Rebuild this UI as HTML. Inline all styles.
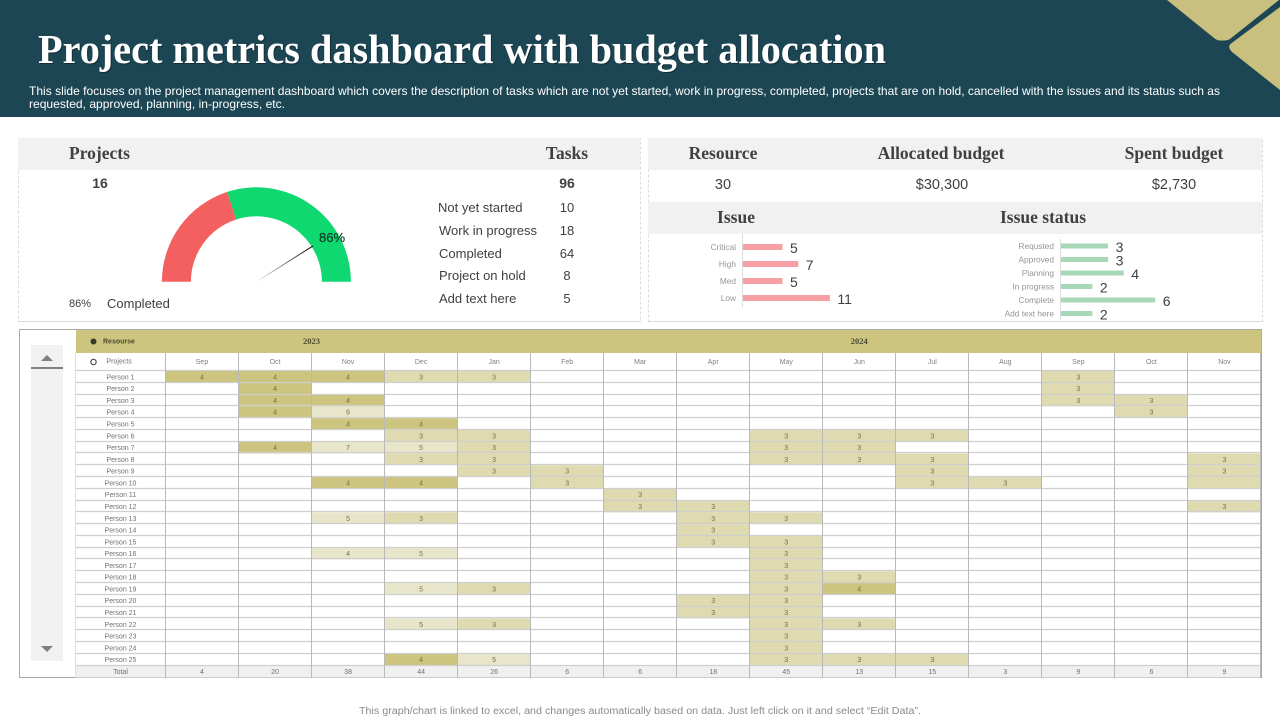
<!DOCTYPE html>
<html lang="en">
<head>
<meta charset="utf-8">
<title>Project metrics dashboard with budget allocation</title>
<style>
html,body{margin:0;padding:0;background:#fff;width:1280px;height:720px;overflow:hidden}
svg{display:block;position:absolute;left:0;top:0}
text{font-family:"Liberation Sans",sans-serif}
.serif{font-family:"Liberation Serif",serif;font-weight:bold}
</style>
</head>
<body>
<svg id="page" xmlns="http://www.w3.org/2000/svg" width="1280" height="720" viewBox="0 0 1280 720">
  <defs>
    <linearGradient id="needleFade" gradientUnits="userSpaceOnUse" x1="256" y1="282" x2="313" y2="247">
      <stop offset="0" stop-color="#000" stop-opacity="0"/>
      <stop offset=".35" stop-color="#000" stop-opacity=".35"/>
      <stop offset="1" stop-color="#000" stop-opacity="1"/>
    </linearGradient>
  </defs>

  <rect x="0" y="0" width="1280" height="117" fill="#1c4654"/>
  <path d="M1167 0 H1279 L1230 39 Q1228 40.5 1224 40.5 H1220 Q1217 40.5 1214 38 Z" fill="#c9bf7e"/>
  <path d="M1280 7 V90 L1232 52 Q1227 47 1231 43.5 Z" fill="#c9bf7e"/>
  <text class="serif" x="39" y="64" font-size="41" fill="#000" opacity=".35" textLength="848" lengthAdjust="spacingAndGlyphs" aria-hidden="true">Project metrics dashboard with budget allocation</text>
  <text class="serif" x="38" y="63" font-size="41" fill="#fff" textLength="848" lengthAdjust="spacingAndGlyphs">Project metrics dashboard with budget allocation</text>
  <text x="29" y="95" font-size="12" fill="#fff" textLength="1191" lengthAdjust="spacingAndGlyphs">This slide focuses on the project management dashboard which covers the description of tasks which are not yet  started, work in progress, completed, projects that are on hold, cancelled with the issues and its status such as</text>
  <text x="29" y="108" font-size="12" fill="#fff" textLength="256" lengthAdjust="spacingAndGlyphs">requested, approved, planning, in-progress, etc.</text>

  <!-- Left panel -->
  <g>
    <rect x="18.5" y="138.5" width="622" height="183" fill="#fff" stroke="#dcdcd8" stroke-dasharray="3 2"/>
    <line x1="18" y1="321.5" x2="641" y2="321.5" stroke="#d8d8d4"/>
    <rect x="18" y="138" width="622" height="32" fill="#f1f1f1"/>
    <text class="serif" x="69" y="159" font-size="17.5" fill="#404040">Projects</text>
    <text class="serif" x="567" y="159" font-size="17.5" fill="#404040" text-anchor="middle">Tasks</text>
    <text x="100" y="188" font-size="14" font-weight="bold" fill="#404040" text-anchor="middle">16</text>
    <text x="567" y="188" font-size="14" font-weight="bold" fill="#404040" text-anchor="middle">96</text>
    <text x="69" y="307" font-size="11" fill="#404040">86%</text>
    <text x="107" y="308" font-size="13" fill="#404040">Completed</text>
    <text x="438" y="212" font-size="13" fill="#404040">Not yet started</text>
    <text x="439" y="235" font-size="13" fill="#404040">Work in progress</text>
    <text x="439" y="258" font-size="13" fill="#404040">Completed</text>
    <text x="439" y="280" font-size="13" fill="#404040">Project on hold</text>
    <text x="439" y="303" font-size="13" fill="#404040">Add text here</text>
    <text x="567" y="212" font-size="13" fill="#404040" text-anchor="middle">10</text>
    <text x="567" y="235" font-size="13" fill="#404040" text-anchor="middle">18</text>
    <text x="567" y="258" font-size="13" fill="#404040" text-anchor="middle">64</text>
    <text x="567" y="280" font-size="13" fill="#404040" text-anchor="middle">8</text>
    <text x="567" y="303" font-size="13" fill="#404040" text-anchor="middle">5</text>
  </g>
  <g id="gauge"></g>

  <!-- Right panel -->
  <g>
    <rect x="648.5" y="138.5" width="614" height="183" fill="#fff" stroke="#dcdcd8" stroke-dasharray="3 2"/>
    <line x1="648" y1="321.5" x2="1263" y2="321.5" stroke="#d8d8d4"/>
    <rect x="648" y="138" width="614" height="32" fill="#f1f1f1"/>
    <rect x="648" y="202" width="614" height="32" fill="#f1f1f1"/>
    <text class="serif" x="723" y="159" font-size="17.5" fill="#404040" text-anchor="middle">Resource</text>
    <text class="serif" x="941" y="159" font-size="17.5" fill="#404040" text-anchor="middle">Allocated budget</text>
    <text class="serif" x="1174" y="159" font-size="17.5" fill="#404040" text-anchor="middle">Spent budget</text>
    <text x="723" y="189" font-size="14.5" fill="#404040" text-anchor="middle">30</text>
    <text x="942" y="189" font-size="14.5" fill="#404040" text-anchor="middle">$30,300</text>
    <text x="1174" y="189" font-size="14.5" fill="#404040" text-anchor="middle">$2,730</text>
    <text class="serif" x="736" y="223" font-size="17.5" fill="#404040" text-anchor="middle">Issue</text>
    <text class="serif" x="1043" y="223" font-size="17.5" fill="#404040" text-anchor="middle">Issue status</text>
  </g>
  <g id="issueChart"></g>
  <g id="statusChart"></g>

  <!-- Resource grid -->
  <rect x="19.5" y="329.5" width="1242" height="348" fill="#fff" stroke="#a9a9a9"/>
  <g>
    <rect x="31" y="345" width="32" height="316" fill="#f1f1f1"/>
    <path d="M41 361 L47 355 L53 361 Z" fill="#7f7f7f"/>
    <rect x="31" y="367" width="32" height="2" fill="#7f7f7f"/>
    <path d="M41 646 L53 646 L47 652 Z" fill="#7f7f7f"/>
  </g>
  <g id="grid"></g>

  <text x="640" y="714" font-size="10" fill="#8a8a8a" text-anchor="middle" textLength="562" lengthAdjust="spacingAndGlyphs">This graph/chart is linked to excel, and changes automatically based on data. Just left click on it and select “Edit Data”.</text>
</svg>

<script>
// ---------- Chart data ----------
const gaugeShares = [40, 60];
const gaugeNeedleValue = [82];
const gaugeLabel = ['86%'];

const issueCategories = ['Critical', 'High', 'Med', 'Low'];
const issueValues = [5, 7, 5, 11];

const statusCategories = ['Requsted', 'Approved', 'Planning', 'In progress', 'Complete', 'Add text here'];
const statusValues = [3, 3, 4, 2, 6, 2];

const months = ['Sep', 'Oct', 'Nov', 'Dec', 'Jan', 'Feb', 'Mar', 'Apr', 'May', 'Jun', 'Jul', 'Aug', 'Sep', 'Oct', 'Nov'];
const years = ['2023', '2024'];
const yearSpans = [4, 11];
const people = ['Person 1', 'Person 2', 'Person 3', 'Person 4', 'Person 5', 'Person 6', 'Person 7', 'Person 8', 'Person 9', 'Person 10', 'Person 11', 'Person 12', 'Person 13', 'Person 14', 'Person 15', 'Person 16', 'Person 17', 'Person 18', 'Person 19', 'Person 20', 'Person 21', 'Person 22', 'Person 23', 'Person 24', 'Person 25'];
const allocation = [
  [4, 4, 4, 3, 3, 0, 0, 0, 0, 0, 0, 0, 3, 0, 0],
  [0, 4, 0, 0, 0, 0, 0, 0, 0, 0, 0, 0, 3, 0, 0],
  [0, 4, 4, 0, 0, 0, 0, 0, 0, 0, 0, 0, 3, 3, 0],
  [0, 4, 6, 0, 0, 0, 0, 0, 0, 0, 0, 0, 0, 3, 0],
  [0, 0, 4, 4, 0, 0, 0, 0, 0, 0, 0, 0, 0, 0, 0],
  [0, 0, 0, 3, 3, 0, 0, 0, 3, 3, 3, 0, 0, 0, 0],
  [0, 4, 7, 5, 3, 0, 0, 0, 3, 3, 0, 0, 0, 0, 0],
  [0, 0, 0, 3, 3, 0, 0, 0, 3, 3, 3, 0, 0, 0, 3],
  [0, 0, 0, 0, 3, 3, 0, 0, 0, 0, 3, 0, 0, 0, 3],
  [0, 0, 4, 4, 0, 3, 0, 0, 0, 0, 3, 3, 0, 0, 3],
  [0, 0, 0, 0, 0, 0, 3, 0, 0, 0, 0, 0, 0, 0, 0],
  [0, 0, 0, 0, 0, 0, 3, 3, 0, 0, 0, 0, 0, 0, 3],
  [0, 0, 5, 3, 0, 0, 0, 3, 3, 0, 0, 0, 0, 0, 0],
  [0, 0, 0, 0, 0, 0, 0, 3, 0, 0, 0, 0, 0, 0, 0],
  [0, 0, 0, 0, 0, 0, 0, 3, 3, 0, 0, 0, 0, 0, 0],
  [0, 0, 4, 5, 0, 0, 0, 0, 3, 0, 0, 0, 0, 0, 0],
  [0, 0, 0, 0, 0, 0, 0, 0, 3, 0, 0, 0, 0, 0, 0],
  [0, 0, 0, 0, 0, 0, 0, 0, 3, 3, 0, 0, 0, 0, 0],
  [0, 0, 0, 5, 3, 0, 0, 0, 3, 4, 0, 0, 0, 0, 0],
  [0, 0, 0, 0, 0, 0, 0, 3, 3, 0, 0, 0, 0, 0, 0],
  [0, 0, 0, 0, 0, 0, 0, 3, 3, 0, 0, 0, 0, 0, 0],
  [0, 0, 0, 5, 3, 0, 0, 0, 3, 3, 0, 0, 0, 0, 0],
  [0, 0, 0, 0, 0, 0, 0, 0, 3, 0, 0, 0, 0, 0, 0],
  [0, 0, 0, 0, 0, 0, 0, 0, 3, 0, 0, 0, 0, 0, 0],
  [0, 0, 0, 4, 5, 0, 0, 0, 3, 3, 3, 0, 0, 0, 0]
];
const totals = [4, 20, 38, 44, 26, 6, 6, 18, 45, 13, 15, 3, 9, 6, 9];
// Cells drawn differently in the source: [person index, month index]
const unlabeledCells = [[9, 14]];
const paleCells = [[15, 2]];

// ---------- Helpers ----------
const NS = 'http://www.w3.org/2000/svg';
function mk(parent, tag, props, txt) {
  const e = document.createElementNS(NS, tag);
  for (const k in props) e.setAttribute(k, props[k]);
  if (txt !== undefined) e.textContent = txt;
  parent.appendChild(e);
  return e;
}
function hasCell(list, r, c) {
  return list.some(function (p) { return p[0] === r && p[1] === c; });
}

// ---------- Gauge ----------
(function () {
  const g = document.getElementById('gauge');
  const cx = 256.4, cy = 281.8, R = 94.5, r = 65.5;
  const sum = gaugeShares.reduce(function (a, b) { return a + b; }, 0);
  const angle = function (share) { return Math.PI * (1 - share / sum); };
  const needleAngle = function (v) { return Math.PI * (1 - v / 100); };
  const colors = ['#f46060', '#0fd870'];
  let acc = 0;
  gaugeShares.forEach(function (s, i) {
    const a0 = angle(acc), a1 = angle(acc + s);
    acc += s;
    const d = 'M' + (cx + R * Math.cos(a0)) + ' ' + (cy - R * Math.sin(a0)) +
      ' A' + R + ' ' + R + ' 0 0 1 ' + (cx + R * Math.cos(a1)) + ' ' + (cy - R * Math.sin(a1)) +
      ' L' + (cx + r * Math.cos(a1)) + ' ' + (cy - r * Math.sin(a1)) +
      ' A' + r + ' ' + r + ' 0 0 0 ' + (cx + r * Math.cos(a0)) + ' ' + (cy - r * Math.sin(a0)) + ' Z';
    const seg = mk(g, 'path', { d: d, fill: colors[i] });
    
    
  });
  const na = needleAngle(gaugeNeedleValue[0]);
  const needle = mk(g, 'line', {
    x1: cx, y1: cy,
    x2: cx + 67 * Math.cos(na), y2: cy - 67 * Math.sin(na),
    stroke: 'url(#needleFade)', 'stroke-width': 1
  });
  
  
  const label = mk(g, 'text', { x: 332, y: 242, 'font-size': 13, 'text-anchor': 'middle', fill: '#0e3f28', stroke: '#0e3f28', 'stroke-width': 0.25 }, gaugeLabel[0]);
  
  
})();

// ---------- Bar charts ----------
function barChart(gId, cats, vals, opt) {
  const g = document.getElementById(gId);
  const xScale = function (v) { return opt.x0 + v * opt.unit; };
  const yScale = function (i) { return opt.y0 + i * opt.step; };
  const axis = mk(g, 'line', { x1: opt.x0 - 0.5, x2: opt.x0 - 0.5, y1: opt.axisTop, y2: opt.axisBottom, stroke: '#dcdcdc' });
  
  
  cats.forEach(function (c, i) {
    const y = yScale(i);
    const lab = mk(g, 'text', { x: opt.x0 - 7, y: y + 3, 'font-size': 8.3, 'text-anchor': 'end', fill: '#959595' }, c);
    
    
    const bar = mk(g, 'rect', { x: opt.x0, y: y - opt.h / 2, width: xScale(vals[i]) - opt.x0, height: opt.h, fill: opt.fill });
    
    
    const val = mk(g, 'text', { x: xScale(vals[i]) + opt.pad, y: y + 6, 'font-size': 14, fill: '#404040' }, vals[i]);
    
    
  });
}
barChart('issueChart', issueCategories, issueValues, {
  x0: 743, unit: 7.9, y0: 247, step: 17, h: 6, fill: '#f6a0a6', pad: 7.5, axisTop: 234, axisBottom: 307
});
barChart('statusChart', statusCategories, statusValues, {
  x0: 1061, unit: 15.7, y0: 246, step: 13.5, h: 5, fill: '#a9d8b8', pad: 7.5, axisTop: 239, axisBottom: 320
});

// ---------- Allocation grid ----------
(function () {
  const g = document.getElementById('grid');
  const gx0 = 165.5, colW = 73.03, labelX = 76;
  const gy0 = 371, rowH = 11.78;
  const xCol = function (c) { return gx0 + c * colW; };
  const yRow = function (r) { return gy0 + r * rowH; };
  const gridBottom = yRow(people.length);
  const frameBottom = 677.5;

  const band = mk(g, 'rect', { x: labelX, y: 330, width: xCol(months.length) - labelX, height: 23, fill: '#cdc57f' });
  
  

  const tone = function (v, r, c) {
    if (hasCell(paleCells, r, c) || v >= 5) return '#e8e6ca';
    if (v === 4) return '#cdc57f';
    return '#dfdab0';
  };

  // total row background
  const totBg = mk(g, 'rect', { x: labelX, y: gridBottom, width: xCol(months.length) - labelX, height: frameBottom - gridBottom, fill: '#f0f0f0' });
  
  

  // filled cells
  allocation.forEach(function (row, r) {
    row.forEach(function (v, c) {
      if (!v) return;
      const cell = mk(g, 'rect', { x: xCol(c), y: yRow(r), width: colW, height: rowH, fill: tone(v, r, c) });
      
      
    });
  });

  // row rules
  for (let r = 0; r <= people.length; r++) {
    const y = Math.round(yRow(r)) - 0.5;
    const rule = mk(g, 'line', { x1: labelX, x2: xCol(months.length), y1: y, y2: y, stroke: '#cfcfcf', 'stroke-width': 1.3 });
    
    
  }
  // column rules
  for (let c = 0; c <= months.length; c++) {
    const x = Math.floor(xCol(c)) + 0.5;
    const rule = mk(g, 'line', { x1: x, x2: x, y1: 353, y2: frameBottom, stroke: '#b9b9b9', 'stroke-width': 1 });
    
    
  }
  const leftRule = mk(g, 'line', { x1: labelX - 0.5, x2: labelX - 0.5, y1: 353, y2: frameBottom, stroke: '#e0e0e0' });
  
  

  // year labels
  let start = 0;
  years.forEach(function (yr, i) {
    const cx = xCol(start + yearSpans[i] / 2);
    start += yearSpans[i];
    const t = mk(g, 'text', { x: cx, y: 344, 'font-size': 8.5, 'text-anchor': 'middle', fill: '#4a4a30', 'font-weight': 'bold', style: 'font-family:"Liberation Serif",serif' }, yr);
    
    
  });
  // month labels
  months.forEach(function (m, c) {
    const t = mk(g, 'text', { x: xCol(c + 0.5), y: 364, 'font-size': 7, 'text-anchor': 'middle', fill: '#808080' }, m);
    
    
  });
  // people labels and values
  people.forEach(function (p, r) {
    const y = yRow(r + 0.5) + 2.5;
    const t = mk(g, 'text', { x: 120.5, y: y, 'font-size': 7, 'text-anchor': 'middle', fill: '#707070' }, p);
    
    
    allocation[r].forEach(function (v, c) {
      if (!v || hasCell(unlabeledCells, r, c)) return;
      const n = mk(g, 'text', { x: xCol(c + 0.5), y: y, 'font-size': 7, 'text-anchor': 'middle', fill: '#76704a' }, v);
      
      
    });
  });
  // totals
  const totLabel = mk(g, 'text', { x: 120.5, y: 674, 'font-size': 7, 'text-anchor': 'middle', fill: '#707070' }, 'Total');
  
  
  totals.forEach(function (v, c) {
    const t = mk(g, 'text', { x: xCol(c + 0.5), y: 674, 'font-size': 7, 'text-anchor': 'middle', fill: '#707070' }, v);
    
    
  });

  // header controls
  const radio1 = mk(g, 'circle', { cx: 93.5, cy: 341.5, r: 2.6, fill: '#3a3a2a', stroke: '#3a3a2a', 'stroke-width': 0.8 });
  
  
  const res = mk(g, 'text', { x: 103, y: 343.5, 'font-size': 7, 'font-weight': 'bold', fill: '#4a4a30' }, 'Resourse');
  
  
  const radio2 = mk(g, 'circle', { cx: 93.5, cy: 362, r: 2.7, fill: '#fff', stroke: '#3a3a3a', 'stroke-width': 1 });
  
  
  const prj = mk(g, 'text', { x: 106.5, y: 363.5, 'font-size': 7, fill: '#707070' }, 'Projects');
  
  
})();
</script>
</body>
</html>
